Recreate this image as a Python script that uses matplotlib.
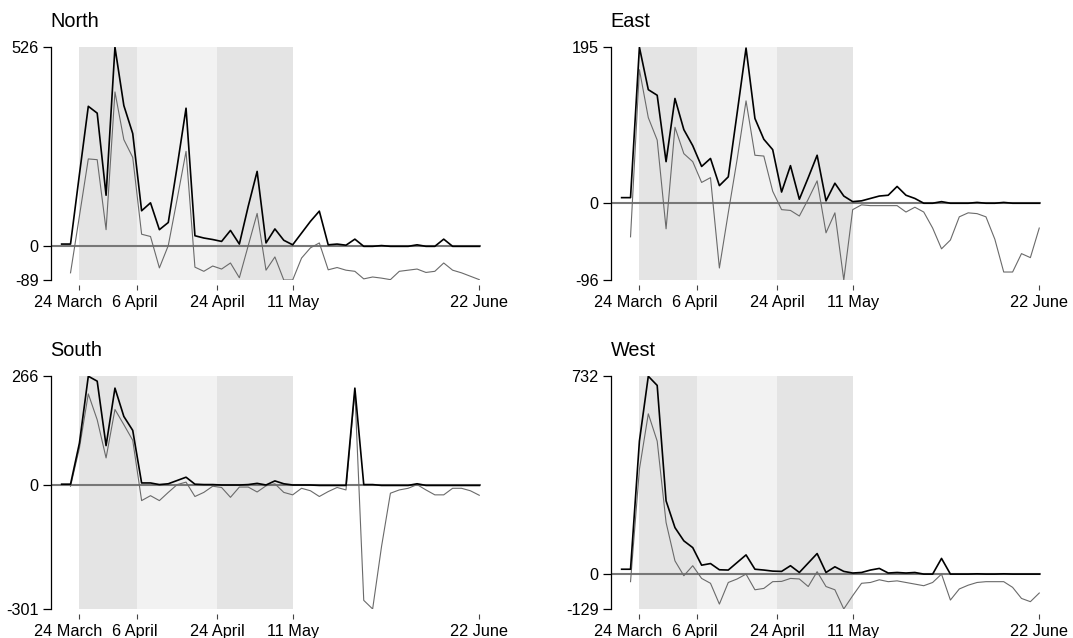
import matplotlib
matplotlib.use('Agg')
import matplotlib.pyplot as plt
from matplotlib.transforms import ScaledTranslation
import numpy as np
import pandas as pd

plt.rcParams['font.family'] = ['Liberation Sans', 'DejaVu Sans']

# every second day, 20 March to 22 June
dates = pd.date_range('2020-03-20', '2020-06-22', freq='2D')
nan = np.nan

regions = ['North', 'East', 'South', 'West']

north_total = [6, 6, 190, 370, 352, 135, 526, 372, 298, 94, 115, 44, 63, 211, 365, 28,
               22, 18, 13, 42, 6, 106, 198, 9, 46, 16, 4, 35, 66, 93, 4, 6,
               3, 19, 0, 0, 2, 0, 0, 0, 4, 0, 0, 19, 0, 0, 0, 0]
north_change = [nan, -70, 80, 231, 229, 44, 408, 282, 235, 32, 26, -57, 2, 125, 251, -55,
                -66, -52, -60, -44, -83, 2, 87, -63, -28, -89, -89, -31, -4, 9, -62, -56,
                -63, -66, -86, -81, -84, -88, -66, -63, -60, -69, -66, -44, -63, -70, -79, -88]

east_total = [7, 7, 195, 142, 135, 52, 131, 92, 72, 46, 56, 22, 33, 113, 194, 106,
              80, 67, 14, 47, 5, 32, 60, 3, 25, 9, 2, 3, 6, 9, 10, 21,
              10, 6, 0, 0, 2, 0, 0, 0, 1, 0, 0, 1, 0, 0, 0, 0]
east_change = [nan, -42, 167, 107, 79, -32, 95, 62, 52, 26, 32, -81, -12, 55, 128, 60,
               59, 15, -8, -9, -16, 5, 28, -37, -12, -96, -8, -2, -3, -3, -3, -3,
               -11, -5, -11, -31, -57, -46, -17, -12, -13, -17, -45, -86, -86, -63, -68, -31]

south_total = [3, 3, 103, 266, 254, 97, 237, 168, 134, 6, 6, 2, 4, 12, 20, 3,
               2, 2, 1, 1, 1, 2, 5, 1, 11, 4, 1, 1, 1, 0, 0, 0,
               0, 237, 2, 2, 0, 0, 0, 0, 4, 0, 0, 0, 0, 0, 0, 0]
south_change = [nan, -2, 91, 223, 160, 67, 185, 148, 110, -37, -25, -37, -17, 2, 8, -27,
                -17, -2, -5, -29, -4, -4, -16, -1, 4, -17, -23, -7, -13, -27, -15, -5,
                -11, 230, -280, -301, -149, -19, -11, -7, 2, -11, -23, -23, -7, -7, -13, -24]

west_total = [18, 18, 492, 732, 698, 271, 172, 123, 98, 33, 39, 16, 15, 43, 71, 18,
              15, 11, 10, 31, 6, 41, 76, 6, 27, 10, 4, 6, 15, 21, 4, 6,
              4, 6, 0, 0, 58, 0, 0, 0, 1, 0, 0, 1, 0, 0, 0, 0]
west_change = [nan, -28, 388, 593, 492, 191, 49, -6, 31, -16, -34, -111, -31, -18, 0, -58,
               -53, -28, -27, -16, -18, -46, 9, -46, -58, -129, -80, -34, -31, -21, -28, -25,
               -31, -37, -43, -31, 0, -96, -55, -41, -31, -28, -28, -28, -49, -90, -102, -70]

tick_dates = pd.to_datetime(['2020-03-24', '2020-04-06', '2020-04-24', '2020-05-11', '2020-06-22'])
tick_labels = ['24 March', '6 April', '24 April', '11 May', '22 June']
phase_bounds = pd.to_datetime(['2020-03-24', '2020-04-06', '2020-04-24', '2020-05-11'])
phase_colors = ['#e4e4e4', '#f2f2f2', '#e4e4e4']

series = {
    'North': (north_total, north_change),
    'East': (east_total, east_change),
    'South': (south_total, south_change),
    'West': (west_total, west_change),
}

fig = plt.figure(figsize=(10.73, 6.38), dpi=100)
positions = [
    [0.0471, 0.5611, 0.4008, 0.3648],
    [0.5690, 0.5611, 0.4008, 0.3648],
    [0.0471, 0.0455, 0.4008, 0.3648],
    [0.5690, 0.0455, 0.4008, 0.3648],
]
label_shift_px = [-11, -2, 0, 0, 0]

for name, pos in zip(regions, positions):
    total, change = series[name]
    ax = fig.add_axes(pos)
    ymin = int(np.nanmin([np.nanmin(total), np.nanmin(change)]))
    ymax = int(np.nanmax([np.nanmax(total), np.nanmax(change)]))

    for i, c in enumerate(phase_colors):
        ax.axvspan(phase_bounds[i], phase_bounds[i + 1], color=c, lw=0, zorder=0)
    ax.axhline(0, color='#777777', lw=1.5, zorder=2)
    ax.plot(dates, change, color='#6a6a6a', lw=0.8, zorder=3)
    ax.plot(dates, total, color='black', lw=1.2, zorder=4)

    ax.set_xlim(tick_dates[0] - pd.Timedelta(days=6.5), tick_dates[-1] + pd.Timedelta(days=0.3))
    ax.set_ylim(ymin, ymax)
    ax.set_yticks([ymin, 0, ymax])
    ax.set_yticklabels([str(ymin), '0', str(ymax)])
    ax.set_xticks(tick_dates)
    ax.set_xticklabels(tick_labels)

    for s in ['top', 'right']:
        ax.spines[s].set_visible(False)
    ax.spines['bottom'].set_visible(False)
    ax.spines['bottom'].set_position(('outward', 3.6))
    ax.spines['left'].set_linewidth(0.9)

    ax.tick_params(axis='y', length=5.5, width=0.9, pad=3, labelsize=11.7, colors='black')
    ax.tick_params(axis='x', length=3.6, width=0.8, pad=3.8, labelsize=11.7,
                   color='#444444', labelcolor='black')
    for lbl, dx in zip(ax.get_xticklabels(), label_shift_px):
        lbl.set_transform(lbl.get_transform() + ScaledTranslation(dx / 100, 0, fig.dpi_scale_trans))

    ax.set_title(name, loc='left', fontsize=14.3, pad=14.8)
    ax.patch.set_visible(False)

fig.savefig('out.png', dpi=100, facecolor='white')
plt.close(fig)
